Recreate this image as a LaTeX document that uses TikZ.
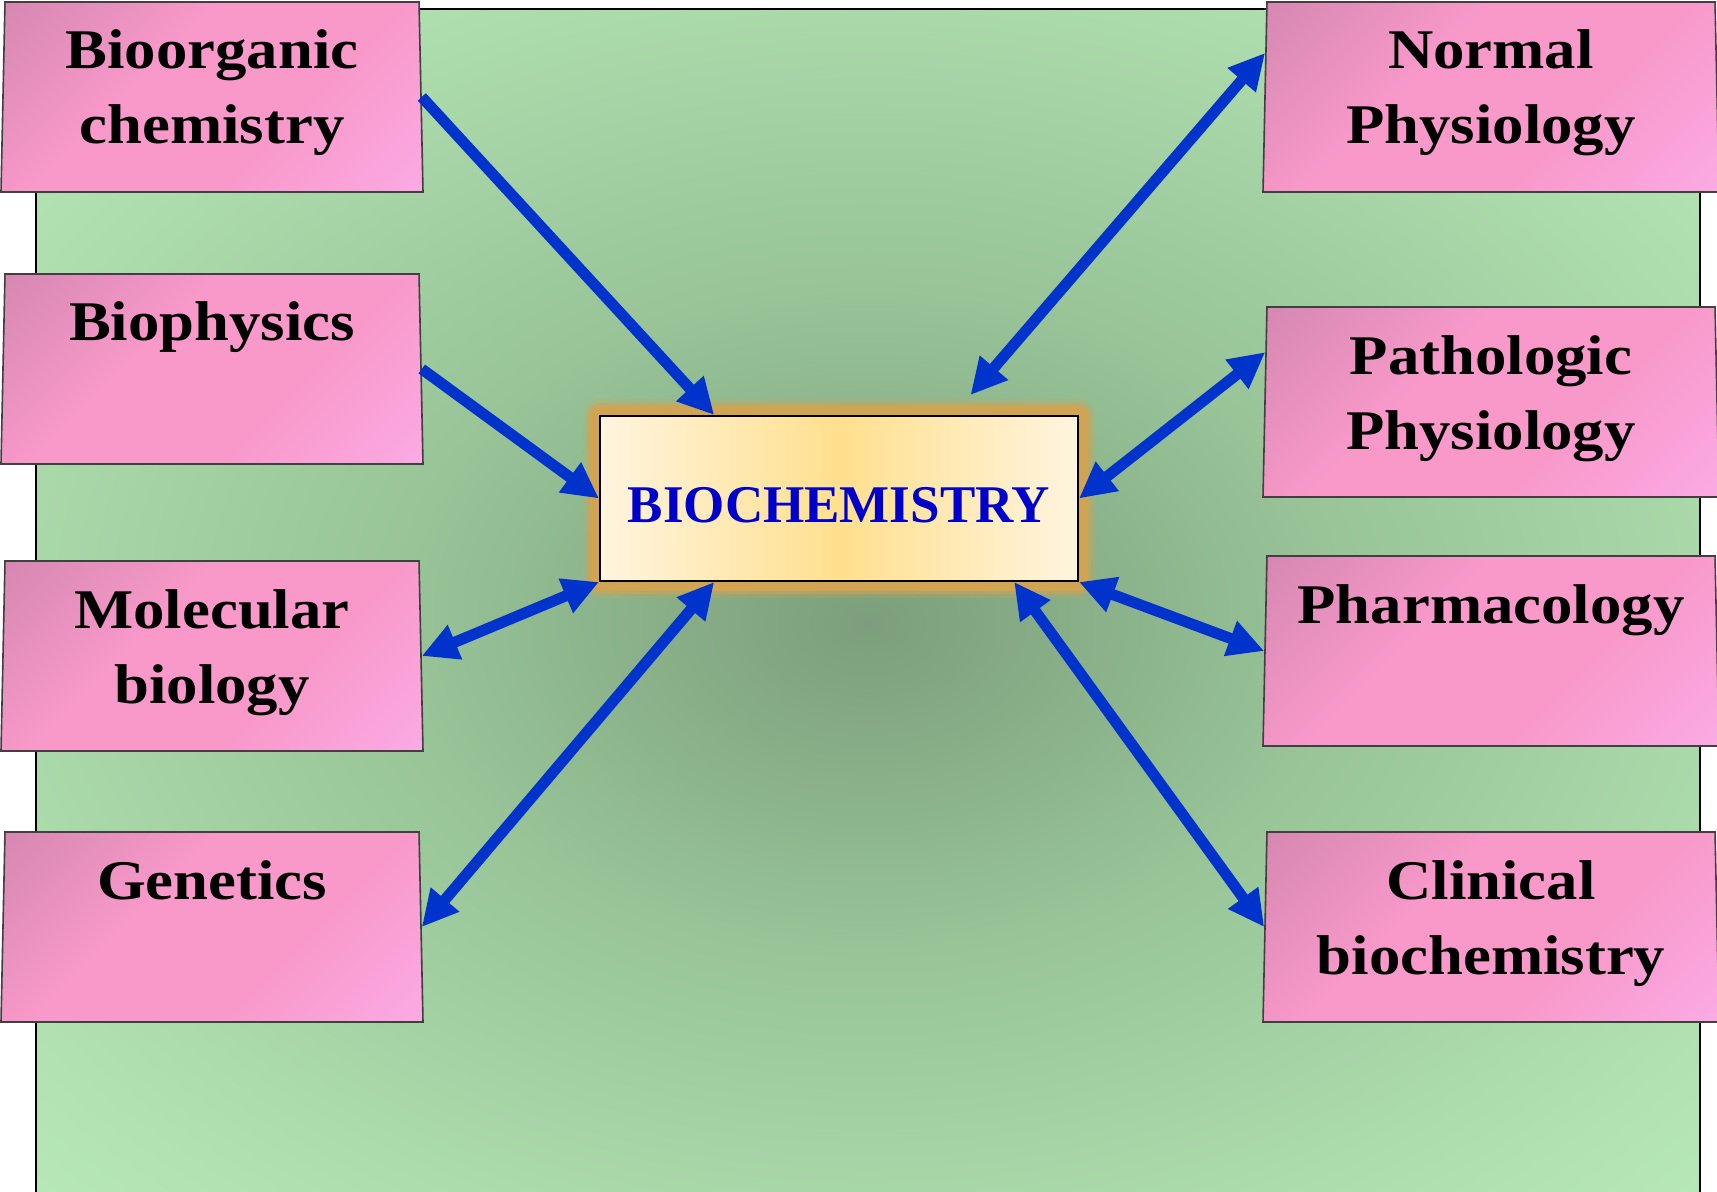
\documentclass[tikz,border=0pt]{standalone}
\usepackage{fontspec}
\setmainfont{Liberation Serif}
\newfontfamily\boxfont[FakeStretch=1.12]{Liberation Serif Bold}
\usetikzlibrary{shapes.geometric,arrows.meta,calc}

\definecolor{bgdark}{HTML}{7C9E7C}
\definecolor{bgmid}{HTML}{98C498}
\definecolor{bglight}{HTML}{B2E2B2}
\definecolor{bgpale}{HTML}{C6F8C6}
\definecolor{pinkA}{HTML}{D688B1}
\definecolor{pinkB}{HTML}{F899CA}
\definecolor{pinkC}{HTML}{FBAAE4}
\definecolor{cream}{HTML}{FFF4DF}
\definecolor{sunny}{HTML}{FFE08E}
\definecolor{glow}{HTML}{D1A454}
\definecolor{linkblue}{HTML}{0033CC}
\definecolor{titleblue}{HTML}{0000CC}

\pgfdeclareradialshading{bgshade}{\pgfpoint{0bp}{-1bp}}{%
  color(0bp)=(bgdark); color(14bp)=(bgmid); color(31bp)=(bglight);
  color(48bp)=(bgpale); color(72bp)=(bgpale)}
\pgfdeclarehorizontalshading{pinkshade}{100bp}{%
  color(0bp)=(pinkA); color(15bp)=(pinkA); color(40bp)=(pinkB);
  color(62bp)=(pinkB); color(85bp)=(pinkC); color(100bp)=(pinkC)}

\tikzset{
  subject/.style={trapezium, trapezium angle=88.8, trapezium stretches body,
    draw=black!75, line width=0.8pt,
    shading=pinkshade, shading angle=-45,
    inner sep=0pt, text height=33.5pt, text depth=61.5pt,
    font=\boxfont\fontsize{28}{37.5}\selectfont},
  core/.style={rectangle, draw=black, line width=1pt,
    preaction={draw=glow, line width=17pt, draw opacity=0.25, line join=round},
    preaction={draw=glow, line width=13pt, draw opacity=0.5, line join=round},
    preaction={draw=glow, line width=10pt, line join=round},
    left color=cream, right color=cream, middle color=sunny,
    minimum width=239pt, minimum height=82.5pt,
    text height=24pt, text depth=0pt,
    font=\bfseries\fontsize{26.5}{30}\selectfont, text=titleblue},
  link/.style={draw=linkblue, line width=5.5pt,
    -{Triangle[length=18pt,width=17.5pt]}},
  both/.style={link, {Triangle[length=18pt,width=17.5pt]}-{Triangle[length=18pt,width=17.5pt]}}
}

\begin{document}
\begin{tikzpicture}[x=0.5pt,y=-0.5pt]
\useasboundingbox (0,0) rectangle (1717,1192);
% backdrop
\shade[shading=bgshade] (36,9) rectangle (1700,1192);
\draw[line width=1pt] (36,1194) -- (36,9) -- (1700,9) -- (1700,1194);

% left column
\node[subject, minimum width=211pt] (borg) at (212,97) {\parbox[t]{200pt}{\centering Bioorganic\\chemistry}};
\node[subject, minimum width=211pt] (bphys) at (212,369) {\parbox[t]{200pt}{\centering Biophysics}};
\node[subject, minimum width=211pt] (molb) at (212,656) {\parbox[t]{200pt}{\centering Molecular\\biology}};
\node[subject, minimum width=211pt] (gen) at (212,927) {\parbox[t]{200pt}{\centering Genetics}};

% right column
\node[subject, minimum width=228pt] (norm) at (1491,97) {\parbox[t]{218pt}{\centering Normal\\Physiology}};
\node[subject, minimum width=228pt] (patho) at (1491,402) {\parbox[t]{218pt}{\centering Pathologic\\Physiology}};
\node[subject, minimum width=228pt] (pharm) at (1491,651) {\parbox[t]{218pt}{\centering Pharmacology}};
\node[subject, minimum width=228pt] (clin) at (1491,927) {\parbox[t]{218pt}{\centering Clinical\\biochemistry}};

% centre
\node[core] (bio) at (839,498.5) {BIOCHEMISTRY};

% links
\draw[link] (borg.east) -- ($(bio.north west)!.24!(bio.north east)$);
\draw[link] (bphys.east) -- (bio.west);
\draw[both] (molb.east) -- (bio.south west);
\draw[both] (gen.east) -- ($(bio.south west)!.24!(bio.south east)$);
\draw[both] ($(norm.top left corner)!.27!(norm.bottom left corner)$) -- ($(bio.north west)!.774!(bio.north east)+(0,-20)$);
\draw[both] ($(patho.top left corner)!.24!(patho.bottom left corner)$) -- (bio.east);
\draw[both] (pharm.west) -- (bio.south east);
\draw[both] (clin.west) -- ($(bio.south west)!.865!(bio.south east)$);
\end{tikzpicture}
\end{document}
